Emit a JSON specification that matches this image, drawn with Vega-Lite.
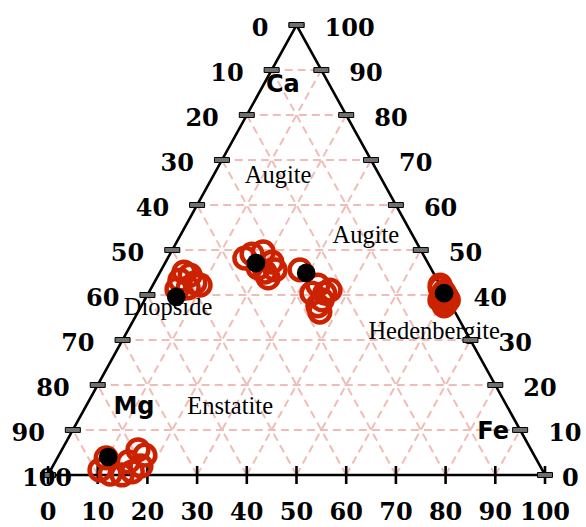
{
  "$schema": "https://vega.github.io/schema/vega-lite/v6.json",
  "width": 586,
  "height": 527,
  "autosize": {"type": "none"},
  "padding": 0,
  "background": "white",
  "config": {"view": {"stroke": null}},
  "datasets": {
    "grid": [
      {"ca1": 10, "fe1": 0, "ca2": 10, "fe2": 90},
      {"ca1": 20, "fe1": 0, "ca2": 20, "fe2": 80},
      {"ca1": 30, "fe1": 0, "ca2": 30, "fe2": 70},
      {"ca1": 40, "fe1": 0, "ca2": 40, "fe2": 60},
      {"ca1": 50, "fe1": 0, "ca2": 50, "fe2": 50},
      {"ca1": 60, "fe1": 0, "ca2": 60, "fe2": 40},
      {"ca1": 70, "fe1": 0, "ca2": 70, "fe2": 30},
      {"ca1": 80, "fe1": 0, "ca2": 80, "fe2": 20},
      {"ca1": 90, "fe1": 0, "ca2": 90, "fe2": 10},
      {"ca1": 0, "fe1": 10, "ca2": 90, "fe2": 10},
      {"ca1": 0, "fe1": 20, "ca2": 80, "fe2": 20},
      {"ca1": 0, "fe1": 30, "ca2": 70, "fe2": 30},
      {"ca1": 0, "fe1": 40, "ca2": 60, "fe2": 40},
      {"ca1": 0, "fe1": 50, "ca2": 50, "fe2": 50},
      {"ca1": 0, "fe1": 60, "ca2": 40, "fe2": 60},
      {"ca1": 0, "fe1": 70, "ca2": 30, "fe2": 70},
      {"ca1": 0, "fe1": 80, "ca2": 20, "fe2": 80},
      {"ca1": 0, "fe1": 90, "ca2": 10, "fe2": 90},
      {"ca1": 0, "fe1": 90, "ca2": 90, "fe2": 0},
      {"ca1": 0, "fe1": 80, "ca2": 80, "fe2": 0},
      {"ca1": 0, "fe1": 70, "ca2": 70, "fe2": 0},
      {"ca1": 0, "fe1": 60, "ca2": 60, "fe2": 0},
      {"ca1": 0, "fe1": 50, "ca2": 50, "fe2": 0},
      {"ca1": 0, "fe1": 40, "ca2": 40, "fe2": 0},
      {"ca1": 0, "fe1": 30, "ca2": 30, "fe2": 0},
      {"ca1": 0, "fe1": 20, "ca2": 20, "fe2": 0},
      {"ca1": 0, "fe1": 10, "ca2": 10, "fe2": 0}
    ],
    "edges": [
      {"ca1": 0, "fe1": 0, "ca2": 100, "fe2": 0},
      {"ca1": 100, "fe1": 0, "ca2": 0, "fe2": 100},
      {"ca1": 0, "fe1": 0, "ca2": 0, "fe2": 100}
    ],
    "left": [
      {"ca": 100, "fe": 0, "label": "0"},
      {"ca": 90, "fe": 0, "label": "10"},
      {"ca": 80, "fe": 0, "label": "20"},
      {"ca": 70, "fe": 0, "label": "30"},
      {"ca": 60, "fe": 0, "label": "40"},
      {"ca": 50, "fe": 0, "label": "50"},
      {"ca": 40, "fe": 0, "label": "60"},
      {"ca": 30, "fe": 0, "label": "70"},
      {"ca": 20, "fe": 0, "label": "80"},
      {"ca": 10, "fe": 0, "label": "90"},
      {"ca": 0, "fe": 0, "label": "100"}
    ],
    "right": [
      {"ca": 100, "fe": 0, "label": "100"},
      {"ca": 90, "fe": 10, "label": "90"},
      {"ca": 80, "fe": 20, "label": "80"},
      {"ca": 70, "fe": 30, "label": "70"},
      {"ca": 60, "fe": 40, "label": "60"},
      {"ca": 50, "fe": 50, "label": "50"},
      {"ca": 40, "fe": 60, "label": "40"},
      {"ca": 30, "fe": 70, "label": "30"},
      {"ca": 20, "fe": 80, "label": "20"},
      {"ca": 10, "fe": 90, "label": "10"},
      {"ca": 0, "fe": 100, "label": "0"}
    ],
    "bottom": [
      {"ca": 0, "fe": 0, "label": "0"},
      {"ca": 0, "fe": 10, "label": "10"},
      {"ca": 0, "fe": 20, "label": "20"},
      {"ca": 0, "fe": 30, "label": "30"},
      {"ca": 0, "fe": 40, "label": "40"},
      {"ca": 0, "fe": 50, "label": "50"},
      {"ca": 0, "fe": 60, "label": "60"},
      {"ca": 0, "fe": 70, "label": "70"},
      {"ca": 0, "fe": 80, "label": "80"},
      {"ca": 0, "fe": 90, "label": "90"},
      {"ca": 0, "fe": 100, "label": "100"}
    ],
    "regions": [
      {"ca": 66.4, "fe": 13.1, "label": "Augite"},
      {"ca": 53.1, "fe": 37.4, "label": "Augite"},
      {"ca": 37.1, "fe": 5.6, "label": "Diopside"},
      {"ca": 31.8, "fe": 61.8, "label": "Hedenbergite"},
      {"ca": 15.1, "fe": 29.1, "label": "Enstatite"}
    ],
    "elements": [
      {"ca": 86.7, "fe": 3.9, "label": "Ca"},
      {"ca": 15.1, "fe": 9.75, "label": "Mg"},
      {"ca": 9.56, "fe": 84.8, "label": "Fe"}
    ],
    "samples": [
      {"ca": 3.8, "mg": 86.4, "fe": 9.8},
      {"ca": 0.2, "mg": 87.4, "fe": 12.4},
      {"ca": 0.0, "mg": 85.1, "fe": 14.9},
      {"ca": 0.7, "mg": 82.7, "fe": 16.6},
      {"ca": 5.6, "mg": 79.1, "fe": 15.3},
      {"ca": 2.0, "mg": 80.3, "fe": 17.7},
      {"ca": 2.9, "mg": 82.4, "fe": 14.7},
      {"ca": 4.4, "mg": 78.3, "fe": 17.3},
      {"ca": 1.1, "mg": 89.0, "fe": 9.9},
      {"ca": 45.1, "mg": 50.1, "fe": 4.8},
      {"ca": 43.3, "mg": 51.8, "fe": 4.9},
      {"ca": 42.7, "mg": 49.1, "fe": 8.2},
      {"ca": 41.6, "mg": 51.0, "fe": 7.4},
      {"ca": 41.3, "mg": 53.4, "fe": 5.3},
      {"ca": 44.4, "mg": 49.2, "fe": 6.4},
      {"ca": 42.2, "mg": 48.3, "fe": 9.5},
      {"ca": 49.1, "mg": 34.4, "fe": 16.5},
      {"ca": 49.6, "mg": 31.9, "fe": 18.5},
      {"ca": 47.3, "mg": 31.3, "fe": 21.4},
      {"ca": 45.1, "mg": 33.8, "fe": 21.1},
      {"ca": 43.8, "mg": 33.8, "fe": 22.4},
      {"ca": 46.0, "mg": 34.7, "fe": 19.3},
      {"ca": 48.2, "mg": 36.3, "fe": 15.5},
      {"ca": 45.6, "mg": 31.5, "fe": 22.9},
      {"ca": 45.6, "mg": 26.5, "fe": 27.9},
      {"ca": 42.2, "mg": 24.6, "fe": 33.2},
      {"ca": 40.4, "mg": 24.1, "fe": 35.5},
      {"ca": 38.9, "mg": 25.4, "fe": 35.7},
      {"ca": 37.6, "mg": 26.9, "fe": 35.5},
      {"ca": 40.4, "mg": 26.7, "fe": 32.9},
      {"ca": 41.1, "mg": 22.7, "fe": 36.2},
      {"ca": 36.2, "mg": 27.2, "fe": 36.6},
      {"ca": 41.6, "mg": 0.3, "fe": 58.1},
      {"ca": 40.7, "mg": 0.0, "fe": 59.3},
      {"ca": 38.9, "mg": 0.0, "fe": 61.1},
      {"ca": 37.6, "mg": 1.5, "fe": 60.9},
      {"ca": 39.6, "mg": 0.9, "fe": 59.5},
      {"ca": 39.8, "mg": 0.0, "fe": 60.2},
      {"ca": 42.2, "mg": 0.0, "fe": 57.8},
      {"ca": 38.2, "mg": 0.8, "fe": 61.0},
      {"ca": 38.9, "mg": 1.7, "fe": 59.4}
    ],
    "means": [
      {"ca": 4.0, "mg": 85.9, "fe": 10.1},
      {"ca": 39.6, "mg": 54.4, "fe": 6.0},
      {"ca": 47.1, "mg": 34.6, "fe": 18.3},
      {"ca": 44.9, "mg": 25.6, "fe": 29.5},
      {"ca": 40.4, "mg": 0.1, "fe": 59.5}
    ]
  },
  "layer": [
    {
      "data": {"name": "grid"},
      "transform": [
        {"calculate": "datum.fe1 + datum.ca1 / 2", "as": "X"},
        {"calculate": "datum.ca1", "as": "Y"},
        {"calculate": "datum.fe2 + datum.ca2 / 2", "as": "X2"},
        {"calculate": "datum.ca2", "as": "Y2"}
      ],
      "mark": {"type": "rule", "color": "#efbdb8", "strokeWidth": 2, "strokeDash": [8, 5]},
      "encoding": {
        "x": {"field": "X", "type": "quantitative", "scale": {"domain": [-9.66, 108.25], "nice": false, "zero": false}, "axis": null},
        "y": {"field": "Y", "type": "quantitative", "scale": {"domain": [-11.56, 105.56], "nice": false, "zero": false}, "axis": null},
        "x2": {"field": "X2"},
        "y2": {"field": "Y2"}
      }
    },
    {
      "data": {"name": "regions"},
      "transform": [
        {"calculate": "datum.fe + datum.ca / 2", "as": "X"},
        {"calculate": "datum.ca", "as": "Y"}
      ],
      "mark": {"type": "text", "font": "Liberation Serif", "fontSize": 24.5, "color": "black", "align": "center", "baseline": "middle"},
      "encoding": {
        "x": {"field": "X", "type": "quantitative", "scale": {"domain": [-9.66, 108.25], "nice": false, "zero": false}, "axis": null},
        "y": {"field": "Y", "type": "quantitative", "scale": {"domain": [-11.56, 105.56], "nice": false, "zero": false}, "axis": null},
        "text": {"field": "label"}
      }
    },
    {
      "data": {"name": "edges"},
      "transform": [
        {"calculate": "datum.fe1 + datum.ca1 / 2", "as": "X"},
        {"calculate": "datum.ca1", "as": "Y"},
        {"calculate": "datum.fe2 + datum.ca2 / 2", "as": "X2"},
        {"calculate": "datum.ca2", "as": "Y2"}
      ],
      "mark": {"type": "rule", "color": "black", "strokeWidth": 2.6, "strokeCap": "round"},
      "encoding": {
        "x": {"field": "X", "type": "quantitative", "scale": {"domain": [-9.66, 108.25], "nice": false, "zero": false}, "axis": null},
        "y": {"field": "Y", "type": "quantitative", "scale": {"domain": [-11.56, 105.56], "nice": false, "zero": false}, "axis": null},
        "x2": {"field": "X2"},
        "y2": {"field": "Y2"}
      }
    },
    {
      "data": {"name": "bottom"},
      "transform": [
        {"calculate": "datum.fe + datum.ca / 2", "as": "X"},
        {"calculate": "datum.ca", "as": "Y"}
      ],
      "mark": {"type": "point", "shape": "M0,-1V1", "size": 324, "stroke": "black", "strokeWidth": 2.6, "filled": false, "opacity": 1},
      "encoding": {
        "x": {"field": "X", "type": "quantitative", "scale": {"domain": [-9.66, 108.25], "nice": false, "zero": false}, "axis": null},
        "y": {"field": "Y", "type": "quantitative", "scale": {"domain": [-11.56, 105.56], "nice": false, "zero": false}, "axis": null}
      }
    },
    {
      "data": {"name": "left"},
      "transform": [
        {"calculate": "datum.fe + datum.ca / 2", "as": "X"},
        {"calculate": "datum.ca", "as": "Y"}
      ],
      "mark": {"type": "point", "shape": "M-1,-0.33H1V0.33H-1Z", "size": 225, "fill": "#707070", "stroke": "black", "strokeWidth": 1, "filled": true, "opacity": 1},
      "encoding": {
        "x": {"field": "X", "type": "quantitative", "scale": {"domain": [-9.66, 108.25], "nice": false, "zero": false}, "axis": null},
        "y": {"field": "Y", "type": "quantitative", "scale": {"domain": [-11.56, 105.56], "nice": false, "zero": false}, "axis": null}
      }
    },
    {
      "data": {"name": "right"},
      "transform": [
        {"calculate": "datum.fe + datum.ca / 2", "as": "X"},
        {"calculate": "datum.ca", "as": "Y"}
      ],
      "mark": {"type": "point", "shape": "M-1,-0.33H1V0.33H-1Z", "size": 225, "fill": "#707070", "stroke": "black", "strokeWidth": 1, "filled": true, "opacity": 1},
      "encoding": {
        "x": {"field": "X", "type": "quantitative", "scale": {"domain": [-9.66, 108.25], "nice": false, "zero": false}, "axis": null},
        "y": {"field": "Y", "type": "quantitative", "scale": {"domain": [-11.56, 105.56], "nice": false, "zero": false}, "axis": null}
      }
    },
    {
      "data": {"name": "left"},
      "transform": [
        {"filter": "datum.label != '100'"},
        {"calculate": "datum.fe + datum.ca / 2", "as": "X"},
        {"calculate": "datum.ca", "as": "Y"}
      ],
      "mark": {"type": "text", "font": "DejaVu Serif", "fontWeight": "bold", "fontSize": 24, "color": "black", "align": "right", "baseline": "middle", "dx": -28, "dy": 4},
      "encoding": {
        "x": {"field": "X", "type": "quantitative", "scale": {"domain": [-9.66, 108.25], "nice": false, "zero": false}, "axis": null},
        "y": {"field": "Y", "type": "quantitative", "scale": {"domain": [-11.56, 105.56], "nice": false, "zero": false}, "axis": null},
        "text": {"field": "label"}
      }
    },
    {
      "data": {"name": "left"},
      "transform": [
        {"filter": "datum.label == '100'"},
        {"calculate": "datum.fe + datum.ca / 2", "as": "X"},
        {"calculate": "datum.ca", "as": "Y"}
      ],
      "mark": {"type": "text", "font": "DejaVu Serif", "fontWeight": "bold", "fontSize": 24, "color": "black", "align": "center", "baseline": "middle", "dx": -1, "dy": 4},
      "encoding": {
        "x": {"field": "X", "type": "quantitative", "scale": {"domain": [-9.66, 108.25], "nice": false, "zero": false}, "axis": null},
        "y": {"field": "Y", "type": "quantitative", "scale": {"domain": [-11.56, 105.56], "nice": false, "zero": false}, "axis": null},
        "text": {"field": "label"}
      }
    },
    {
      "data": {"name": "right"},
      "transform": [
        {"filter": "datum.label != '0'"},
        {"calculate": "datum.fe + datum.ca / 2", "as": "X"},
        {"calculate": "datum.ca", "as": "Y"}
      ],
      "mark": {"type": "text", "font": "DejaVu Serif", "fontWeight": "bold", "fontSize": 24, "color": "black", "align": "left", "baseline": "middle", "dx": 28, "dy": 4},
      "encoding": {
        "x": {"field": "X", "type": "quantitative", "scale": {"domain": [-9.66, 108.25], "nice": false, "zero": false}, "axis": null},
        "y": {"field": "Y", "type": "quantitative", "scale": {"domain": [-11.56, 105.56], "nice": false, "zero": false}, "axis": null},
        "text": {"field": "label"}
      }
    },
    {
      "data": {"name": "right"},
      "transform": [
        {"filter": "datum.label == '0'"},
        {"calculate": "datum.fe + datum.ca / 2", "as": "X"},
        {"calculate": "datum.ca", "as": "Y"}
      ],
      "mark": {"type": "text", "font": "DejaVu Serif", "fontWeight": "bold", "fontSize": 24, "color": "black", "align": "left", "baseline": "middle", "dx": 17, "dy": 4},
      "encoding": {
        "x": {"field": "X", "type": "quantitative", "scale": {"domain": [-9.66, 108.25], "nice": false, "zero": false}, "axis": null},
        "y": {"field": "Y", "type": "quantitative", "scale": {"domain": [-11.56, 105.56], "nice": false, "zero": false}, "axis": null},
        "text": {"field": "label"}
      }
    },
    {
      "data": {"name": "bottom"},
      "transform": [
        {"calculate": "datum.fe + datum.ca / 2", "as": "X"},
        {"calculate": "datum.ca", "as": "Y"}
      ],
      "mark": {"type": "text", "font": "DejaVu Serif", "fontWeight": "bold", "fontSize": 24, "color": "black", "align": "center", "baseline": "middle", "dy": 38},
      "encoding": {
        "x": {"field": "X", "type": "quantitative", "scale": {"domain": [-9.66, 108.25], "nice": false, "zero": false}, "axis": null},
        "y": {"field": "Y", "type": "quantitative", "scale": {"domain": [-11.56, 105.56], "nice": false, "zero": false}, "axis": null},
        "text": {"field": "label"}
      }
    },
    {
      "data": {"name": "samples"},
      "transform": [
        {"calculate": "datum.fe + datum.ca / 2", "as": "X"},
        {"calculate": "datum.ca", "as": "Y"}
      ],
      "mark": {"type": "point", "shape": "circle", "size": 430, "stroke": "#cc2200", "strokeWidth": 4.5, "filled": false, "opacity": 1},
      "encoding": {
        "x": {"field": "X", "type": "quantitative", "scale": {"domain": [-9.66, 108.25], "nice": false, "zero": false}, "axis": null},
        "y": {"field": "Y", "type": "quantitative", "scale": {"domain": [-11.56, 105.56], "nice": false, "zero": false}, "axis": null}
      }
    },
    {
      "data": {"name": "means"},
      "transform": [
        {"calculate": "datum.fe + datum.ca / 2", "as": "X"},
        {"calculate": "datum.ca", "as": "Y"}
      ],
      "mark": {"type": "point", "shape": "circle", "size": 350, "fill": "black", "filled": true, "opacity": 1, "strokeWidth": 0},
      "encoding": {
        "x": {"field": "X", "type": "quantitative", "scale": {"domain": [-9.66, 108.25], "nice": false, "zero": false}, "axis": null},
        "y": {"field": "Y", "type": "quantitative", "scale": {"domain": [-11.56, 105.56], "nice": false, "zero": false}, "axis": null}
      }
    },
    {
      "data": {"name": "elements"},
      "transform": [
        {"calculate": "datum.fe + datum.ca / 2", "as": "X"},
        {"calculate": "datum.ca", "as": "Y"}
      ],
      "mark": {"type": "text", "font": "DejaVu Sans", "fontWeight": "bold", "fontSize": 24, "color": "black", "align": "center", "baseline": "middle"},
      "encoding": {
        "x": {"field": "X", "type": "quantitative", "scale": {"domain": [-9.66, 108.25], "nice": false, "zero": false}, "axis": null},
        "y": {"field": "Y", "type": "quantitative", "scale": {"domain": [-11.56, 105.56], "nice": false, "zero": false}, "axis": null},
        "text": {"field": "label"}
      }
    }
  ]
}
